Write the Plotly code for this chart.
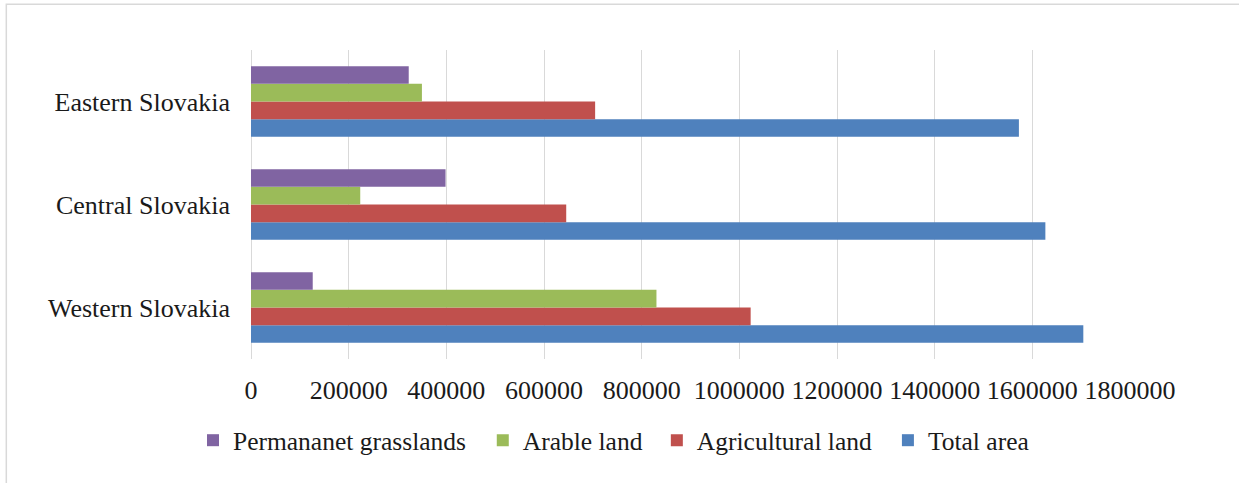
import plotly.graph_objects as go

regions = ["Western Slovakia", "Central Slovakia", "Eastern Slovakia"]
series_names = ["Total area", "Agricultural land", "Arable land", "Permananet grasslands"]
total_area = [1704400, 1626700, 1572500]
agricultural_land = [1023200, 645500, 704700]
arable_land = [830300, 223700, 350000]
permanent_grasslands = [126400, 398400, 323000]
x_ticks = [0, 200000, 400000, 600000, 800000, 1000000, 1200000, 1400000, 1600000, 1800000]

values = [total_area, agricultural_land, arable_land, permanent_grasslands]
colors = ["#4F81BD", "#C0504D", "#9BBB59", "#8064A2"]
legend_ids = ["legend4", "legend3", "legend2", "legend"]

W, H = 1239, 483
L, R, T, B = 251.3, 1239 - 1130.0, 50.0, 483 - 359.3
pw, ph = W - L - R, H - T - B

def px2x(px):
    return (px - L) / pw

def py2y(py):
    return (H - B - py) / ph

FONT = "Liberation Serif"
TXT = "#1a1a1a"
FS = 26

fig = go.Figure()
for name, vals, col, lg in zip(series_names, values, colors, legend_ids):
    fig.add_trace(go.Bar(
        y=regions, x=vals, name=name, orientation="h",
        marker=dict(color=col, line=dict(width=0)),
        legend=lg,
    ))

# legend text start positions (px) in the reference
text_starts = {"legend": 232.3, "legend2": 522.0, "legend3": 696.0, "legend4": 927.0}
legend_layout = {}
for lg, ts in text_starts.items():
    legend_layout[lg] = dict(
        x=px2x(ts - 40 + 1), xanchor="left",
        y=py2y(441), yanchor="middle",
        orientation="h", bgcolor="rgba(0,0,0,0)",
        font=dict(family=FONT, size=FS - 0.5, color=TXT),
        itemwidth=30, borderwidth=0,
    )

fig.update_layout(
    width=W, height=H,
    margin=dict(l=L, r=R, t=T, b=B, pad=0),
    paper_bgcolor="white", plot_bgcolor="white",
    barmode="group", bargap=0.314, bargroupgap=0,
    font=dict(family=FONT, size=FS, color=TXT),
    showlegend=True,
    **legend_layout,
)
fig.update_xaxes(
    range=[0, 1800000], tickvals=x_ticks, tickformat=".0f",
    showgrid=True, gridcolor="#d9d9d9", gridwidth=1.3,
    zeroline=True, zerolinecolor="#d9d9d9", zerolinewidth=1.3,
    showline=False, ticks="", ticklabelstandoff=13,
    tickfont=dict(family=FONT, size=FS, color=TXT),
)
fig.update_yaxes(
    showgrid=False, zeroline=False, showline=False, ticks="",
    ticklabelstandoff=20,
    tickfont=dict(family=FONT, size=FS, color=TXT),
)
# chart-area border (light grey frame)
fig.add_shape(type="rect", xref="paper", yref="paper",
              x0=px2x(6.7), x1=px2x(1260), y0=py2y(520), y1=py2y(4.3),
              line=dict(color="#d9d9d9", width=1.5), fillcolor="rgba(0,0,0,0)",
              layer="below")

fig.write_html("out.html")
